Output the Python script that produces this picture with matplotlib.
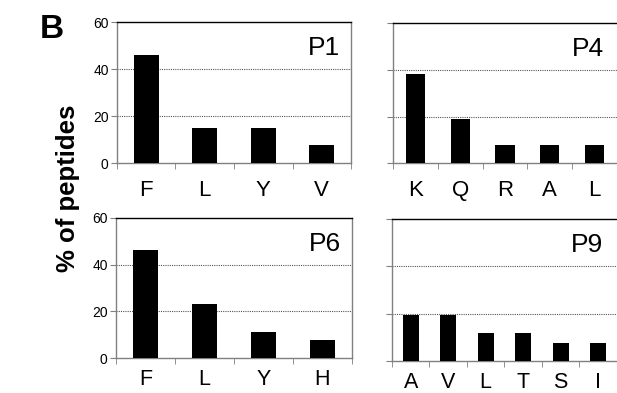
import numpy as np
import matplotlib
matplotlib.use("Agg")
import matplotlib.pyplot as plt

plt.rcParams['font.family'] = ['Liberation Sans', 'DejaVu Sans']

# data (% of peptides)
p1_labels = ["F", "L", "Y", "V"]
p1_values = [46.0, 15.1, 15.1, 7.7]
p4_labels = ["K", "Q", "R", "A", "L"]
p4_values = [38.3, 19.2, 7.7, 7.7, 7.7]
p6_labels = ["F", "L", "Y", "H"]
p6_values = [46.5, 23.3, 11.0, 7.6]
p9_labels = ["A", "V", "L", "T", "S", "I"]
p9_values = [19.6, 19.6, 11.7, 11.7, 7.8, 7.8]

fig = plt.figure(figsize=(6.17, 3.93), dpi=100)

# panel rectangles in figure fraction
rects = {
    "P1": [0.1896, 0.5852, 0.5689 - 0.1896, 0.944 - 0.5852],
    "P4": [0.637, 0.584, 1.0 - 0.637, 0.941 - 0.584],
    "P6": [0.188, 0.089, 0.5705 - 0.188, 0.4453 - 0.089],
    "P9": [0.6353, 0.0814, 1.0 - 0.6353, 0.4427 - 0.0814],
}
panels = [("P1", p1_labels, p1_values, True, True),
          ("P4", p4_labels, p4_values, False, True),
          ("P6", p6_labels, p6_values, True, False),
          ("P9", p9_labels, p9_values, False, False)]

grey = "#808080"
for name, labels, values, left, top in panels:
    ax = fig.add_axes(rects[name])
    x = np.arange(len(labels))
    ax.bar(x, values, width=0.43, color="black", zorder=3)
    ax.set_xlim(-0.5, len(labels) - 0.5)
    ax.set_ylim(0, 60)
    for g in [20, 40]:
        ax.axhline(g, color="#555555", lw=0.8, ls=(0, (1, 1)), zorder=1)
    ax.set_xticks(x)
    ax.set_xticklabels(labels, fontsize=16 if top else 15.5)
    ax.set_xticks(np.arange(len(labels) + 1) - 0.5, minor=True)
    ax.tick_params(axis="x", which="major", length=0, pad=12 if top else 8)
    ax.tick_params(axis="x", which="minor", length=4, color=grey, direction="out")
    ax.set_yticks([0, 20, 40, 60])
    ax.tick_params(axis="y", length=4, color=grey, labelsize=10, pad=2)
    if not left:
        ax.set_yticklabels([])
        ax.spines["right"].set_visible(False)
    else:
        ax.spines["right"].set_color(grey)
    ax.spines["left"].set_color(grey)
    ax.spines["bottom"].set_color(grey)
    ax.spines["top"].set_color("black")
    for s in ax.spines.values():
        s.set_linewidth(1.0)
    xr = 0.955 if left else 0.94
    ax.text(xr, 0.9, name, transform=ax.transAxes, ha="right", va="top",
            fontsize=19)

fig.text(0.065, 0.965, "B", fontsize=24, fontweight="bold", va="top", ha="left")
fig.text(0.11, 0.52, "% of peptides", rotation=90, fontsize=18.5,
         fontweight="bold", ha="center", va="center")

fig.savefig("out.png", dpi=100)
